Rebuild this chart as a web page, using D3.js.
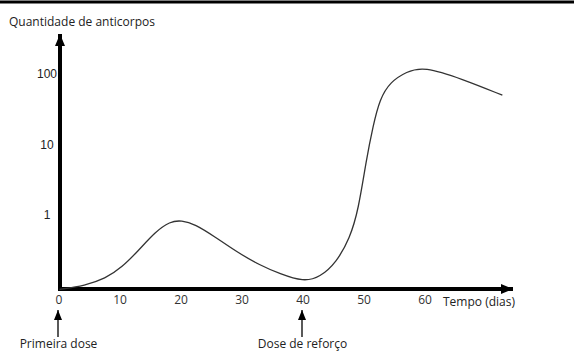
<!DOCTYPE html>
<html>
<head>
<meta charset="utf-8">
<script src="https://cdn.jsdelivr.net/npm/d3@7"></script>
<style>
  body { margin: 0; background: #fff; }
  svg { display: block; }
</style>
</head>
<body>
<svg id="chart" width="574" height="352"></svg>
<script>
// antibody curve (log scale values)
const days = [0, 4.2, 7.5, 10.2, 12.9, 15.7, 18.1, 20, 22.2, 25.5, 29, 32.9, 36.1, 40, 42.7, 45.4, 47.6, 49, 50.3, 51.4, 52.5, 54.2, 56.9, 59.7, 66, 72.6];
const antibodies = [0.088, 0.1, 0.125, 0.18, 0.31, 0.577, 0.81, 0.84, 0.744, 0.49, 0.301, 0.193, 0.147, 0.113, 0.131, 0.213, 0.469, 1.18, 6.1, 18.3, 44, 77, 108, 128, 85, 50];

const xTicks = [0, 10, 20, 30, 40, 50, 60];
const yTicks = [1, 10, 100];
const doses = [
  { day: 0, label: "Primeira dose" },
  { day: 40, label: "Dose de reforço" }
];

const svg = d3.select("#chart");

const x = d3.scaleLinear().domain([0, 60]).range([59.5, 425.5]);
const y = d3.scaleLog().domain([1, 100]).range([215, 74]);
const yBase = 289;

// top rule
svg.append("line")
  .attr("x1", 0).attr("x2", 574)
  .attr("y1", 2).attr("y2", 2)
  .attr("stroke", "#000")
  .attr("stroke-width", 3);

// arrowheads
const defs = svg.append("defs");
defs.append("marker")
  .attr("id", "bigArrow")
  .attr("viewBox", "0 0 12 10")
  .attr("refX", 12).attr("refY", 5)
  .attr("markerWidth", 12).attr("markerHeight", 10)
  .attr("markerUnits", "userSpaceOnUse")
  .attr("orient", "auto")
  .append("path")
  .attr("d", "M0,0 L12,5 L0,10 Z")
  .attr("fill", "#000");
defs.append("marker")
  .attr("id", "smallArrow")
  .attr("viewBox", "0 0 10 8")
  .attr("refX", 10).attr("refY", 4)
  .attr("markerWidth", 10).attr("markerHeight", 8)
  .attr("markerUnits", "userSpaceOnUse")
  .attr("orient", "auto")
  .append("path")
  .attr("d", "M0,0 L10,4 L0,8 Z")
  .attr("fill", "#000");

// axes lines
svg.append("line")
  .attr("x1", 60).attr("x2", 60)
  .attr("y1", yBase + 2).attr("y2", 34)
  .attr("stroke", "#000").attr("stroke-width", 4)
  .attr("marker-end", "url(#bigArrow)");
svg.append("line")
  .attr("x1", 58).attr("x2", 513)
  .attr("y1", yBase).attr("y2", yBase)
  .attr("stroke", "#000").attr("stroke-width", 4)
  .attr("marker-end", "url(#bigArrow)");

// x tick labels
const gx = svg.append("g")
  .attr("transform", `translate(-1,${yBase + 2})`)
  .call(d3.axisBottom(x).tickValues(xTicks).tickSize(0).tickPadding(4));
gx.select(".domain").remove();
gx.selectAll("text")
  .attr("fill", "#333")
  .style("font-family", "'Open Sans', sans-serif")
  .style("font-size", "12px");

// y tick labels
const gy = svg.append("g")
  .attr("transform", "translate(47,0)")
  .call(d3.axisLeft(y).tickValues(yTicks).tickFormat(d3.format("d")).tickSize(0).tickPadding(0));
gy.select(".domain").remove();
gy.selectAll("text")
  .attr("text-anchor", "middle")
  .attr("fill", "#222")
  .style("font-family", "'Liberation Sans', Arial, sans-serif")
  .style("font-size", "12px");

// axis titles
svg.append("text")
  .attr("x", 9).attr("y", 26)
  .attr("fill", "#222")
  .style("font-family", "'Open Sans', sans-serif")
  .style("font-size", "12px")
  .text("Quantidade de anticorpos");
svg.append("text")
  .attr("x", 443).attr("y", 306)
  .attr("fill", "#222")
  .style("font-family", "'Open Sans', sans-serif")
  .style("font-size", "12px")
  .text("Tempo (dias)");

// curve
const line = d3.line()
  .x((d, i) => x(days[i]))
  .y(d => y(d))
  .curve(d3.curveBasis);
svg.append("path")
  .datum(antibodies)
  .attr("d", line)
  .attr("fill", "none")
  .attr("stroke", "#333")
  .attr("stroke-width", 1.3);

// dose annotations
const dose = svg.selectAll(".dose").data(doses).join("g").attr("class", "dose");
dose.append("line")
  .attr("x1", d => x(d.day) - 1.5).attr("x2", d => x(d.day) - 1.5)
  .attr("y1", 337).attr("y2", 310)
  .attr("stroke", "#000").attr("stroke-width", 1.3)
  .attr("marker-end", "url(#smallArrow)");
dose.append("text")
  .attr("x", d => x(d.day) - 1)
  .attr("y", 348)
  .attr("text-anchor", "middle")
  .attr("fill", "#222")
  .style("font-family", "'Open Sans', sans-serif")
  .style("font-size", "12px")
  .text(d => d.label);
</script>
</body>
</html>
